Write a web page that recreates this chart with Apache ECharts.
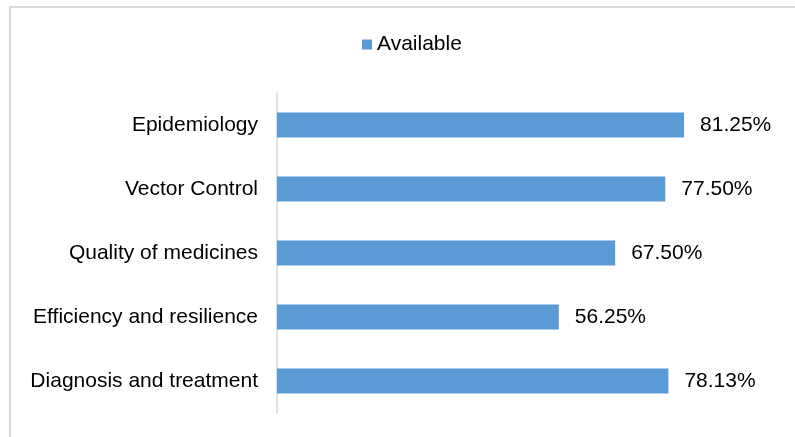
<!DOCTYPE html>
<html>
<head>
<meta charset="utf-8">
<script src="https://cdn.jsdelivr.net/npm/echarts@6/dist/echarts.min.js"></script>
<style>
  html, body { margin: 0; padding: 0; background: #fff; }
  #chart { width: 795px; height: 437px; }
</style>
</head>
<body>
<div id="chart"></div>
<script>
// Share of areas with capacity available (%)
const categories = [
  'Epidemiology',
  'Vector Control',
  'Quality of medicines',
  'Efficiency and resilience',
  'Diagnosis and treatment'
];
const availableValues = [81.25, 77.50, 67.50, 56.25, 78.13];
const seriesName = 'Available';

const FONT = '"Liberation Sans", Arial, sans-serif';

const chart = echarts.init(document.getElementById('chart'), null, { renderer: 'canvas' });

chart.setOption({
  animation: false,
  backgroundColor: '#ffffff',
  graphic: [{
    type: 'rect',
    silent: true,
    shape: { x: 10, y: 7, width: 820, height: 460 },
    style: { fill: 'none', stroke: '#d9d9d9', lineWidth: 2 }
  }],
  legend: {
    data: [seriesName],
    left: 362,
    top: 34,
    padding: 0,
    icon: 'rect',
    itemWidth: 10,
    itemHeight: 10,
    textStyle: { fontFamily: FONT, fontSize: 21, color: '#000' }
  },
  grid: { left: 277, top: 93, width: 501, height: 320, containLabel: false },
  xAxis: {
    type: 'value',
    min: 0,
    max: 100,
    show: false
  },
  yAxis: {
    type: 'category',
    data: categories,
    inverse: true,
    axisLine: { show: true, lineStyle: { color: '#d9d9d9', width: 1.5 } },
    axisTick: { show: false },
    splitLine: { show: false },
    axisLabel: {
      margin: 19,
      fontFamily: FONT,
      fontSize: 21,
      color: '#000'
    }
  },
  series: [{
    name: seriesName,
    type: 'bar',
    data: availableValues,
    barWidth: 25,
    itemStyle: { color: '#5B9BD5' },
    label: {
      show: true,
      position: 'right',
      distance: 16,
      fontFamily: FONT,
      fontSize: 21,
      color: '#000',
      formatter: p => p.value.toFixed(2) + '%'
    }
  }]
});
</script>
</body>
</html>
